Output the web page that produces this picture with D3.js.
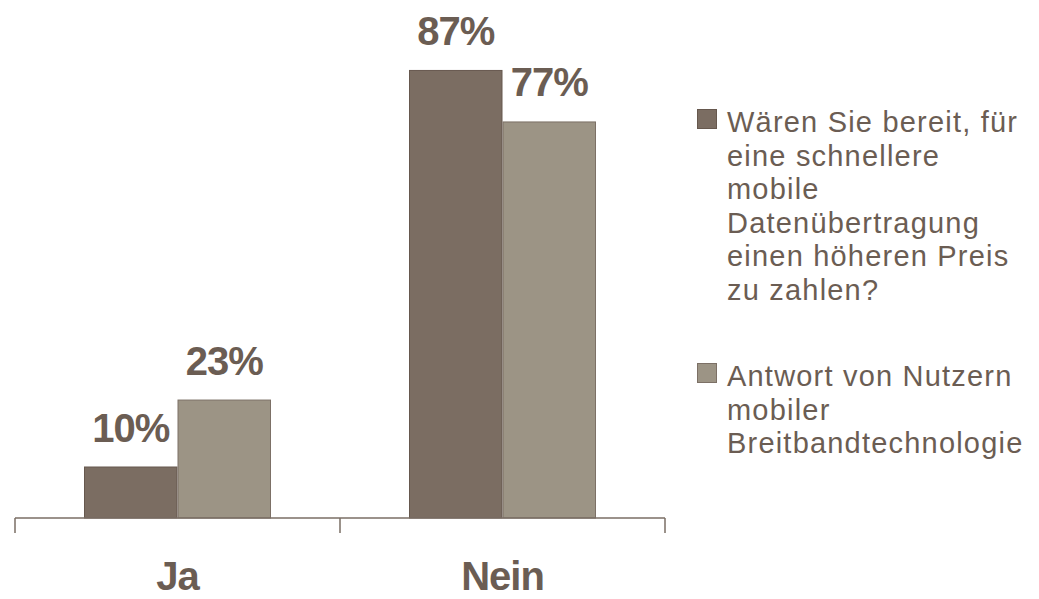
<!DOCTYPE html>
<html>
<head>
<meta charset="utf-8">
<script src="https://cdnjs.cloudflare.com/ajax/libs/d3/7.8.5/d3.min.js"></script>
<style>
  html, body { margin: 0; padding: 0; background: #ffffff; }
  svg { display: block; }
</style>
</head>
<body>
<svg id="chart" width="1039" height="599"></svg>
<script>
const categories = ["Ja", "Nein"];
const seriesNames = [
  "Wären Sie bereit, für eine schnellere mobile Datenübertragung einen höheren Preis zu zahlen?",
  "Antwort von Nutzern mobiler Breitbandtechnologie"
];
const seriesValues = [
  [10, 87],
  [23, 77]
];
const legendLines = [
  ["Wären Sie bereit, für", "eine schnellere", "mobile", "Datenübertragung", "einen höheren Preis", "zu zahlen?"],
  ["Antwort von Nutzern", "mobiler", "Breitbandtechnologie"]
];
const fills = ["#7b6d62", "#9c9485"];
const strokes = ["#66584e", "#7c7066"];
const textColor = "#6b5d53";

const svg = d3.select("#chart");
const baseY = 518;

const x0 = d3.scaleBand().domain(categories).range([15, 665]).paddingInner(0).paddingOuter(0);
const x1 = d3.scaleBand().domain(d3.range(seriesValues.length)).range([0, x0.bandwidth()]).paddingInner(0).paddingOuter(0.738);
const y = d3.scaleLinear().domain([0, 100]).range([baseY, 3]);

// bars
seriesValues.forEach((vals, si) => {
  const g = svg.append("g");
  g.selectAll("rect").data(categories.map((c, i) => ({c, v: vals[i]})))
    .enter().append("rect")
    .attr("x", d => x0(d.c) + x1(si) + 0.5)
    .attr("y", d => y(d.v) + 0.5)
    .attr("width", x1.bandwidth() - 1)
    .attr("height", d => baseY - y(d.v) - 0.5)
    .attr("fill", fills[si])
    .attr("stroke", strokes[si])
    .attr("stroke-width", 1);
  g.selectAll("text").data(categories.map((c, i) => ({c, v: vals[i]})))
    .enter().append("text")
    .attr("x", d => x0(d.c) + x1(si) + x1.bandwidth() / 2)
    .attr("y", d => y(d.v) - 25)
    .attr("text-anchor", "middle")
    .attr("font-family", "Liberation Sans, Arial, sans-serif")
    .attr("font-weight", "bold")
    .attr("font-size", 40)
    .attr("letter-spacing", -1)
    .attr("fill", textColor)
    .text(d => d.v + "%");
});

// axis
const axisG = svg.append("g").attr("transform", `translate(0,${baseY})`);
axisG.append("line").attr("x1", 15).attr("x2", 665).attr("y1", 0).attr("y2", 0)
  .attr("stroke", "#7a6e64").attr("stroke-width", 1.5);
const tickXs = [x0.range()[0], ...categories.slice(1).map(c => x0(c)), x0.range()[1]];
axisG.selectAll("line.tick").data(tickXs).enter().append("line")
  .attr("class", "tick")
  .attr("x1", d => d).attr("x2", d => d).attr("y1", 0).attr("y2", 15)
  .attr("stroke", "#7a6e64").attr("stroke-width", 1.5);

svg.append("g").selectAll("text").data(categories).enter().append("text")
  .attr("x", d => x0(d) + x0.bandwidth() / 2)
  .attr("y", 590)
  .attr("text-anchor", "middle")
  .attr("font-family", "Liberation Sans, Arial, sans-serif")
  .attr("font-weight", "bold")
  .attr("font-size", 40)
  .attr("letter-spacing", -1)
  .attr("fill", textColor)
  .text(d => d);

// legend
const legendBase = [132, 386];
const lineH = 33.5;
legendLines.forEach((lines, si) => {
  const g = svg.append("g");
  g.append("rect")
    .attr("x", 697.5).attr("y", legendBase[si] - 22.5)
    .attr("width", 19).attr("height", 19)
    .attr("fill", fills[si]).attr("stroke", strokes[si]).attr("stroke-width", 1);
  g.selectAll("text").data(lines).enter().append("text")
    .attr("x", 727)
    .attr("y", (d, i) => legendBase[si] + i * lineH)
    .attr("font-family", "Liberation Sans, Arial, sans-serif")
    .attr("font-size", 29)
    .attr("letter-spacing", 1.2)
    .attr("fill", textColor)
    .text(d => d);
});
</script>
</body>
</html>
